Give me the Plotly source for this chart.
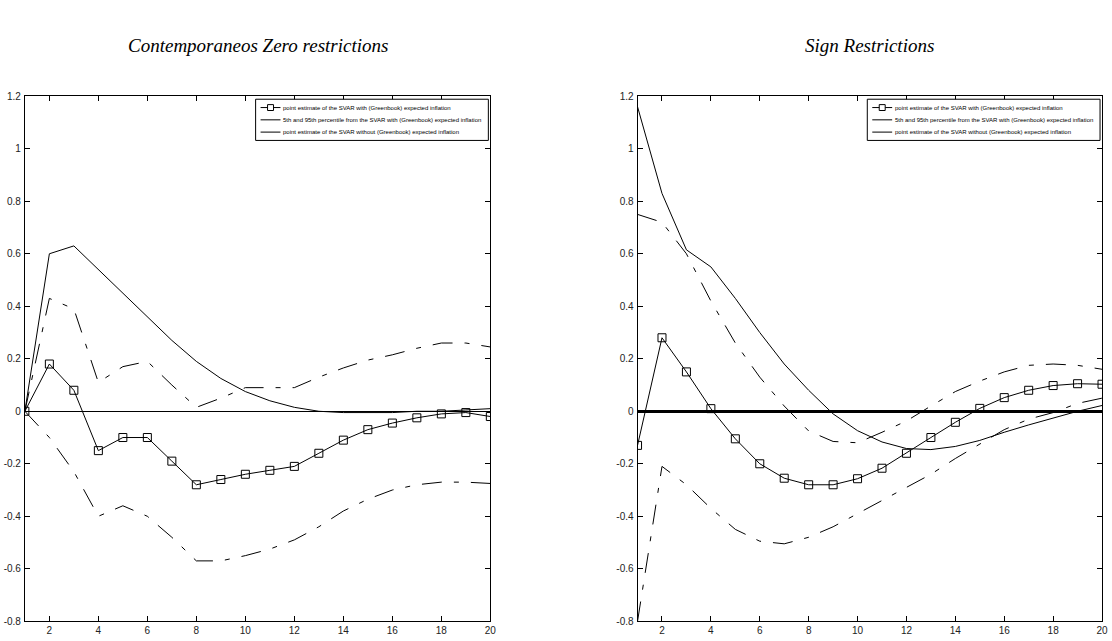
import plotly.graph_objects as go
from plotly.subplots import make_subplots

# Impulse-response horizon (quarters)
horizon = list(range(1, 21))

# --- Contemporaneous zero restrictions ---
zero_point_gb = [0.0, 0.18, 0.08, -0.15, -0.10, -0.10, -0.19, -0.28, -0.26, -0.24,
                 -0.225, -0.21, -0.16, -0.11, -0.07, -0.045, -0.025, -0.01, -0.005, -0.02]
zero_upper = [0.0, 0.43, 0.39, 0.11, 0.17, 0.19, 0.10, 0.015, 0.05, 0.09,
              0.09, 0.09, 0.13, 0.165, 0.195, 0.215, 0.24, 0.26, 0.26, 0.245]
zero_lower = [0.0, -0.10, -0.23, -0.40, -0.36, -0.40, -0.48, -0.57, -0.57, -0.55,
              -0.525, -0.49, -0.44, -0.38, -0.335, -0.30, -0.28, -0.27, -0.27, -0.275]
zero_point_nogb = [0.0, 0.60, 0.63, 0.54, 0.45, 0.36, 0.27, 0.19, 0.125, 0.075,
                   0.04, 0.015, 0.0, -0.005, -0.005, -0.005, 0.0, 0.0, 0.005, 0.01]

# --- Sign restrictions ---
sign_point_gb = [-0.13, 0.28, 0.15, 0.01, -0.105, -0.20, -0.255, -0.28, -0.28, -0.257,
                 -0.217, -0.16, -0.10, -0.042, 0.011, 0.052, 0.08, 0.098, 0.105, 0.103]
sign_upper = [0.75, 0.72, 0.60, 0.42, 0.26, 0.13, 0.02, -0.075, -0.115, -0.12,
              -0.08, -0.037, 0.02, 0.075, 0.115, 0.15, 0.175, 0.18, 0.175, 0.16]
sign_lower = [-0.80, -0.21, -0.28, -0.37, -0.45, -0.495, -0.505, -0.48, -0.44, -0.39,
              -0.34, -0.29, -0.24, -0.18, -0.125, -0.07, -0.03, -0.005, 0.03, 0.05]
sign_point_nogb = [1.16, 0.83, 0.615, 0.55, 0.43, 0.30, 0.18, 0.08, -0.01, -0.074,
                   -0.117, -0.142, -0.146, -0.134, -0.111, -0.08, -0.052, -0.026, 0.0, 0.022]

panel_titles = ["Contemporaneos Zero restrictions", "Sign Restrictions"]
legend_names = [
    "point estimate of the SVAR with (Greenbook) expected inflation",
    "5th and 95th percentile from the SVAR with (Greenbook) expected inflation",
    "point estimate of the SVAR without (Greenbook) expected inflation",
]
x_ticks = list(range(2, 21, 2))
y_ticks = [-0.8, -0.6, -0.4, -0.2, 0, 0.2, 0.4, 0.6, 0.8, 1, 1.2]
y_tick_text = ["-0.8", "-0.6", "-0.4", "-0.2", "0", "0.2", "0.4", "0.6", "0.8", "1", "1.2"]

panels = [
    (zero_point_gb, zero_upper, zero_lower, zero_point_nogb),
    (sign_point_gb, sign_upper, sign_lower, sign_point_nogb),
]

W, H = 1112, 641
AX_LEFT = [25, 641]
AX_RIGHT = [493, 1108]
AX_TOP, AX_BOTTOM = 92, 627
x_dom = [(AX_LEFT[i] / W, AX_RIGHT[i] / W) for i in range(2)]
y_dom = ((H - AX_BOTTOM) / H, (H - AX_TOP) / H)

NARROW = "Liberation Sans Narrow, Arial Narrow, Liberation Sans, Arial, sans-serif"
TICK_FONT = dict(family=NARROW, size=10, color="#222")
DASH = "20px,12px,5px,12px"

fig = make_subplots(rows=1, cols=2)


def px_x(p):
    return p / W


def px_y(p):
    return (H - p) / H


for i, (pgb, up, lo, pno) in enumerate(panels):
    col = i + 1
    fig.add_trace(go.Scatter(
        x=horizon, y=pgb, mode="lines+markers", name=legend_names[0], showlegend=False,
        line=dict(color="black", width=1),
        marker=dict(symbol="square-open", size=8, color="black", line=dict(width=1)),
    ), row=1, col=col)
    fig.add_trace(go.Scatter(
        x=horizon, y=up, mode="lines", name=legend_names[1], showlegend=False,
        line=dict(color="black", width=1, dash=DASH),
    ), row=1, col=col)
    fig.add_trace(go.Scatter(
        x=horizon, y=lo, mode="lines", name=legend_names[1], showlegend=False,
        line=dict(color="black", width=1, dash=DASH),
    ), row=1, col=col)
    fig.add_trace(go.Scatter(
        x=horizon, y=pno, mode="lines", name=legend_names[2], showlegend=False,
        line=dict(color="black", width=1),
    ), row=1, col=col)

    fig.update_xaxes(
        domain=list(x_dom[i]), range=[1, 20], tickvals=x_ticks,
        ticks="inside", ticklen=5, tickcolor="black", mirror="ticks",
        showline=True, linecolor="black", linewidth=1, showgrid=False,
        zeroline=False, tickfont=TICK_FONT, ticklabelstandoff=0,
        row=1, col=col,
    )
    fig.update_yaxes(
        domain=list(y_dom), range=[-0.8, 1.2], tickvals=y_ticks, ticktext=y_tick_text,
        ticks="inside", ticklen=5, tickcolor="black", mirror="ticks",
        showline=True, linecolor="black", linewidth=1, showgrid=False,
        zeroline=True, zerolinecolor="black", zerolinewidth=1 if i == 0 else 2.5,
        tickfont=TICK_FONT, ticklabelstandoff=1,
        row=1, col=col,
    )
    fig.add_annotation(
        text=panel_titles[i], xref="paper", yref="paper",
        x=(x_dom[i][0] + x_dom[i][1]) / 2, y=px_y(40),
        xanchor="center", yanchor="middle", showarrow=False,
        font=dict(family="Liberation Serif, Times New Roman, serif", size=19,
                  color="black", style="italic"),
    )

    # Boxed legend in the upper-right corner of each panel
    box_w, box_h, row_h = 234, 42, 12.5
    right = AX_RIGHT[i] - 2
    left = right - box_w
    top = AX_TOP + 3
    fig.add_shape(type="rect", xref="paper", yref="paper",
                  x0=px_x(left), x1=px_x(right), y0=px_y(top), y1=px_y(top + box_h),
                  line=dict(color="black", width=1), fillcolor="white", layer="above")
    for k, name in enumerate(legend_names):
        yc = top + 8.5 + k * row_h
        fig.add_shape(type="line", xref="paper", yref="paper",
                      x0=px_x(left + 5), x1=px_x(left + 25), y0=px_y(yc), y1=px_y(yc),
                      line=dict(color="black", width=1), layer="above")
        if k == 0:
            fig.add_shape(type="rect", xref="paper", yref="paper",
                          x0=px_x(left + 12), x1=px_x(left + 18),
                          y0=px_y(yc - 3), y1=px_y(yc + 3),
                          line=dict(color="black", width=1), fillcolor="white", layer="above")
        fig.add_annotation(
            text=name, xref="paper", yref="paper", x=px_x(left + 27), y=px_y(yc),
            xanchor="left", yanchor="middle", showarrow=False, borderpad=0,
            font=dict(family=NARROW, size=6, color="black"),
        )

fig.update_layout(
    width=W, height=H, margin=dict(l=0, r=0, t=0, b=0),
    paper_bgcolor="white", plot_bgcolor="white", showlegend=False,
)

fig.write_html("out.html")
